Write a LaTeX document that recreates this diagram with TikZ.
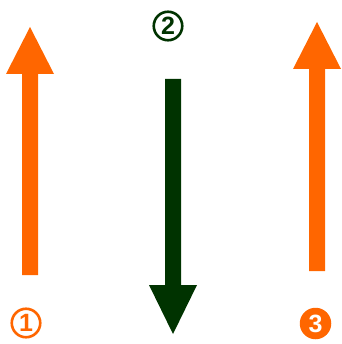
\documentclass[tikz,border=0pt]{standalone}
\usepackage{fontspec}
\setmainfont{Liberation Sans}
\definecolor{aorange}{HTML}{FF6600}
\definecolor{agreen}{HTML}{003300}
\begin{document}
\begin{tikzpicture}[x=1pt,y=-1pt,
  numtext/.style={font=\bfseries\fontsize{25}{25}\selectfont, inner sep=0pt},
  ringnum/.style={circle, draw, line width=2.6pt, minimum size=28.5pt, inner sep=0pt},
  fillnum/.style={circle, minimum size=31.5pt, inner sep=0pt, text=white}]
\useasboundingbox (0,0) rectangle (341,344);
% left arrow (orange, up)
\fill[aorange] (22,275) -- (22,74) -- (6,74) -- (30,27) -- (54,74) -- (38,74) -- (38,275) -- cycle;
% middle arrow (green, down)
\fill[agreen] (165,79) -- (165,285) -- (149,285) -- (173,334) -- (197,285) -- (181,285) -- (181,79) -- cycle;
% right arrow (orange, up)
\fill[aorange] (309,271) -- (309,69) -- (293,69) -- (317,22) -- (341,69) -- (325,69) -- (325,271) -- cycle;
% labels
\node[ringnum, draw=aorange, text=aorange, numtext] (n1) at (26,323) {1};
\node[ringnum, draw=agreen, text=agreen, numtext] (n2) at (168,26) {2};
\node[fillnum, fill=aorange, numtext, text=white] (n3) at (315.5,323.5) {3};
\end{tikzpicture}
\end{document}
